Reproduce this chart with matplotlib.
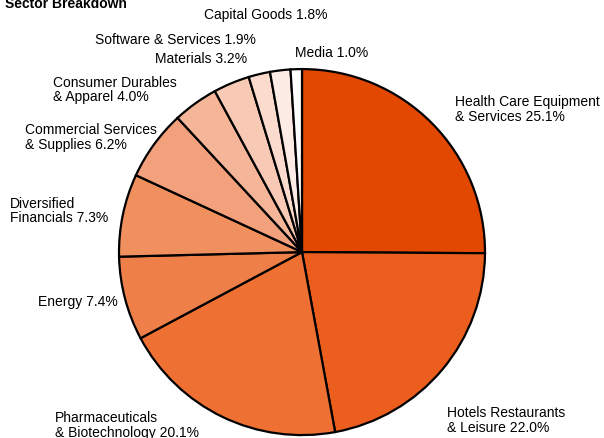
import matplotlib.pyplot as plt

plt.rcParams['font.family'] = ['Liberation Sans', 'DejaVu Sans']

# Sector weights (percent), clockwise from 12 o'clock
sectors = ['Health Care Equipment\n& Services', 'Hotels Restaurants\n& Leisure',
           'Pharmaceuticals\n& Biotechnology', 'Energy', 'Diversified\nFinancials',
           'Commercial Services\n& Supplies', 'Consumer Durables\n& Apparel',
           'Materials', 'Software & Services', 'Capital Goods', 'Media']
weights = [25.1, 22.0, 20.1, 7.4, 7.3, 6.2, 4.0, 3.2, 1.9, 1.8, 1.0]

colors = ['#e34800', '#ec5e1d', '#ee7133', '#ef7f48', '#f0905e', '#f3a17c',
          '#f5b598', '#f8c9b5', '#fbdbce', '#fdece5', '#ffffff']

# label anchors in pie-radius units and their alignment
label_xy = [(0.836, 0.787), (0.792, -0.913), (-1.350, -0.940), (-1.005, -0.268),
            (-1.060, 0.230), (-0.792, 0.634), (-0.683, 0.891), (-0.301, 1.060),
            (-0.251, 1.164), (-0.197, 1.301), (-0.038, 1.093)]
label_ha = ['left', 'left', 'left', 'right', 'right', 'right', 'right',
            'right', 'right', 'center', 'left']

fig = plt.figure(figsize=(6.04, 4.39), dpi=100)
ax = fig.add_axes([0, 0, 1, 1])

ax.pie(weights, colors=colors, startangle=90, counterclock=False, radius=1.0,
       wedgeprops=dict(edgecolor='black', linewidth=1.6))

for name, w, (x, y), ha in zip(sectors, weights, label_xy, label_ha):
    ax.text(x, y, f'{name} {w:.1f}%', ha=ha, va='center', multialignment='left',
            fontsize=10, linespacing=1.08)

ax.set_xlim(-1.650, 1.650)
ax.set_ylim(-1.016, 1.383)
ax.set_aspect('equal')
ax.axis('off')

fig.text(5 / 604, 1 - 8 / 439, 'Sector Breakdown', fontsize=10, fontweight='bold',
         ha='left', va='baseline')

fig.savefig('out.png', dpi=100)
